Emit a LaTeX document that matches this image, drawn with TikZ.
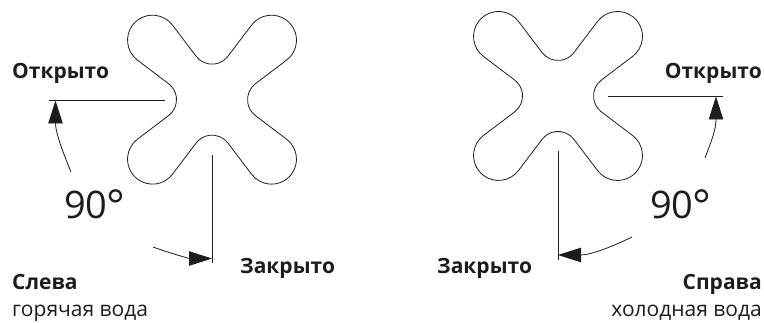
\documentclass[tikz,border=0pt]{standalone}
\usepackage{fontspec}
\setmainfont{Open Sans}
\usetikzlibrary{arrows.meta,positioning}
\definecolor{ink}{HTML}{1D1D1B}
\newcommand{\degring}{\kern-1pt\raisebox{-3.5pt}{\fontsize{44}{44}\selectfont °}}
\tikzset{
  outline/.style={draw=ink, line width=0.8pt, line join=round},
  axis/.style={draw=ink, line width=0.8pt},
  arrow/.style={-{Triangle[length=23pt,width=14.5pt]}, line width=0.8pt, draw=ink},
  boldtext/.style={font=\fontsize{21}{24}\selectfont\bfseries, text=ink, inner sep=0pt},
  plaintext/.style={font=\fontsize{21}{24}\selectfont, text=ink, inner sep=0pt},
  angletext/.style={font=\fontsize{38}{44}\selectfont, text=ink, inner sep=0pt}
}
\begin{document}
\begin{tikzpicture}[x=1pt,y=1pt]
  \useasboundingbox (0,0) rectangle (764,322);
  % handle outlines
  \foreach \cx/\cy in {212/222.3,558/226} {
    \draw[outline] (\cx+15.96,\cy+43.45)
      \foreach \a in {0,-90,-180,-270} {
        -- ++(\a+52.85:39.1)
        arc[start angle=\a+142.85, end angle=\a-52.85, radius=25]
        -- ++(\a-142.85:39.1)
        arc[start angle=\a+127.15, end angle=\a+232.85, radius=20]
      } -- cycle;
  }
  % left handle
  \coordinate (openL1) at (165,222);
  \coordinate (openL2) at (49,222);
  \coordinate (closeL1) at (212,167);
  \coordinate (closeL2) at (212,59);
  \coordinate (fromL1) at (71,150);
  \coordinate (tipL1) at (55.5,221.5);
  \coordinate (fromL2) at (153,75);
  \coordinate (tipL2) at (212,63.5);
  \draw[axis] (openL1) -- (openL2);
  \draw[axis] (closeL1) -- (closeL2);
  \draw[arrow] (fromL1) .. controls (62,172) and (55.5,190) .. (tipL1);
  \draw[arrow] (fromL2) .. controls (172,68) and (190,63.5) .. (tipL2);
  \node[boldtext,anchor=base west] (openleft) at (12,243) {Открыто};
  \node[boldtext,anchor=base west] (closeleft) at (240,49) {Закрыто};
  \node[angletext,anchor=base west] (angleleft) at (64,104) {90\degring};
  \node[boldtext,anchor=base west] (sideleft) at (12,33) {Слева};
  \node[plaintext,anchor=base west] (waterleft) at (12,5.5) {горячая вода};
  % right handle
  \coordinate (openR1) at (608,226);
  \coordinate (openR2) at (723,226);
  \coordinate (closeR1) at (558,171);
  \coordinate (closeR2) at (558,62);
  \coordinate (fromR1) at (705,164);
  \coordinate (tipR1) at (716,225.5);
  \coordinate (fromR2) at (632,85);
  \coordinate (tipR2) at (558,67);
  \draw[axis] (openR1) -- (openR2);
  \draw[axis] (closeR1) -- (closeR2);
  \draw[arrow] (fromR1) .. controls (711,180) and (716,192) .. (tipR1);
  \draw[arrow] (fromR2) .. controls (612,75) and (590,67) .. (tipR2);
  \node[boldtext,anchor=base east] (openright) at (762,243) {Открыто};
  \node[boldtext,anchor=base west] (closeright) at (437,49) {Закрыто};
  \node[angletext,anchor=base west] (angleright) at (650,104) {90\degring};
  \node[boldtext,anchor=base east] (sideright) at (762,33) {Справа};
  \node[plaintext,anchor=base east] (waterright) at (762,5.5) {холодная вода};
\end{tikzpicture}
\end{document}
